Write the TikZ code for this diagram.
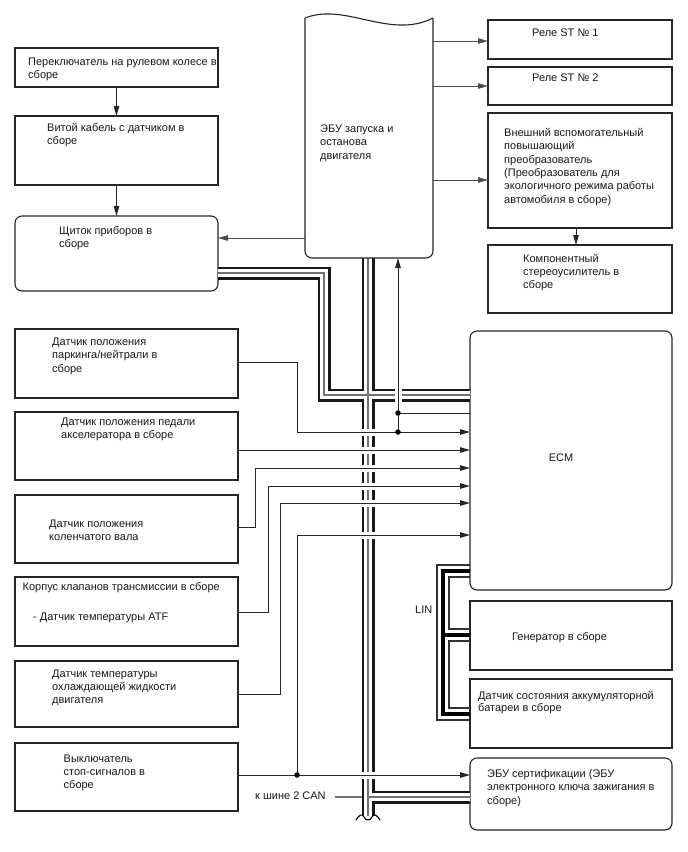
\documentclass[tikz,border=0pt]{standalone}
\usepackage{fontspec}
\setmainfont{Liberation Sans}
\usetikzlibrary{arrows.meta,calc}
\begin{document}
\begin{tikzpicture}[x=1pt,y=-1pt,
  box/.style={draw=black!85, line width=1.1pt, inner sep=0pt, outer sep=0pt, anchor=north west},
  rbox/.style={box, rounded corners=7pt},
  txt/.style={anchor=base west, align=left, inner sep=0pt, font=\fontsize{11}{13.3}\selectfont, text=black!90},
  arr/.style={line width=1pt, draw=black!85, -{Triangle[length=10pt,width=5.5pt]}},
  thinarr/.style={line width=0.9pt, draw=black!70, -{Triangle[length=10pt,width=5.5pt]}},
  sig/.style={line width=1pt, draw=black!85},
  canout/.style={line width=13pt, draw=black!90},
  canmid/.style={line width=7.5pt, draw=white},
  cancore/.style={line width=1.1pt, draw=black!55},
  gapw/.style={fill=white},
  linthin/.style={line width=1.2pt, draw=black!80},
  linthick/.style={line width=4pt, draw=black},
  dotn/.style={circle, fill=black, inner sep=0pt, minimum size=5.5pt},
  eculine/.style={draw=black!85, line width=1.1pt}
]
\fill[white] (0,0) rectangle (688,852);
\useasboundingbox (0,0) rectangle (688,852);

% ---------- level coordinates ----------
\coordinate (y41) at (0,41);
\coordinate (y86) at (0,86);
\coordinate (y180) at (0,180);
\coordinate (y238) at (0,238);
\coordinate (x576) at (576,0);
\coordinate (p1) at (297,362);
\coordinate (d1) at (398,413);
\coordinate (d2) at (398,432);
\coordinate (y450) at (0,450);
\coordinate (c1) at (255,527);
\coordinate (c2) at (255,468);
\coordinate (v1) at (268,612);
\coordinate (v2) at (268,486);
\coordinate (k1) at (280,694);
\coordinate (k2) at (280,503);
\coordinate (b1) at (297,775);
\coordinate (b2) at (297,535);
\coordinate (canA1) at (0,273);
\coordinate (canA2) at (324,273);
\coordinate (canA3) at (324,395);
\coordinate (canB1) at (368,258);
\coordinate (canB2) at (368,816);
\coordinate (canC1) at (368,797);
\coordinate (canlead) at (362,797);

% ---------- boxes ----------
\node[box, minimum width=203pt, minimum height=39pt] (sw) at (15,48) {};
\node[box, minimum width=203pt, minimum height=69pt] (tw) at (15,116) {};
\node[rbox, minimum width=203pt, minimum height=75pt] (ip) at (15,216) {};
\node[box, minimum width=184pt, minimum height=39pt] (r1) at (488,20) {};
\node[box, minimum width=184pt, minimum height=38pt] (r2) at (488,67) {};
\node[box, minimum width=184pt, minimum height=115pt] (ext) at (488,113) {};
\node[box, minimum width=184pt, minimum height=68pt] (comp) at (488,245) {};
\node[rbox, minimum width=202pt, minimum height=259pt] (ecm) at (470,331) {};
\node[box, minimum width=202pt, minimum height=69pt] (gen) at (470,601) {};
\node[box, minimum width=202pt, minimum height=69pt] (bat) at (470,679) {};
\node[rbox, minimum width=202pt, minimum height=72pt] (cert) at (470,758) {};
\node[box, minimum width=223pt, minimum height=69pt] (park) at (15,329) {};
\node[box, minimum width=223pt, minimum height=68pt] (pedal) at (15,412) {};
\node[box, minimum width=223pt, minimum height=68pt] (crank) at (15,495) {};
\node[box, minimum width=223pt, minimum height=69pt] (valve) at (15,577) {};
\node[box, minimum width=223pt, minimum height=66pt] (cool) at (15,661) {};
\node[box, minimum width=223pt, minimum height=68pt] (brake) at (15,743) {};
\node[inner sep=0pt, outer sep=0pt, minimum width=128pt, minimum height=240pt, anchor=south west] (ecu) at (305,258) {};

% ---------- CAN bus ----------
\foreach \st in {canout,canmid,cancore}{
  \draw[\st] (ip.east |- canA1) -- (canA2) -- (canA3) -- (ecm.west |- canA3);
  \draw[\st] (canB1) -- (canB2);
  \draw[\st] (canC1) -- (cert.west |- canC1);
}
% bus end wave
\fill[white] (356,816) rectangle (381,824);
\draw[line width=1.2pt] (356,820) .. controls (359,815) and (362,813) .. (364,817)
  .. controls (366,821) and (370,821) .. (372,817) .. controls (374,813) and (377,815) .. (380,820);
% gaps where signal lines cross
\foreach \yy in {432,450,468,486,503,535,775}{
  \fill[gapw] (359,\yy-3.5) rectangle (377,\yy+3.5);
}
\fill[gapw] (394.5,387) rectangle (401.5,403);

% ---------- LIN bus ----------
\draw[linthin] (ecm.west |- 0,565) -- (437,565) -- (437,720) -- (bat.west |- 0,720);
\draw[linthick] (ecm.west |- 0,571) -- (443,571) -- (443,714) -- (bat.west |- 0,714);
\draw[linthick] (443,635) -- (gen.west |- 0,635);
\draw[linthin] (ecm.west |- 0,577) -- (449,577) -- (449,629) -- (gen.west |- 0,629);
\draw[linthin] (gen.west |- 0,641) -- (449,641) -- (449,708) -- (bat.west |- 0,708);

% ---------- ECU outline ----------
\draw[eculine] (305,18) .. controls (345,2) and (390,40) .. (433,18);
\draw[eculine, rounded corners=7pt] (433,18) -- (433,258) -- (305,258) -- (305,18);

% ---------- texts (anchor = baseline of last line) ----------
\node[txt] (tsw) at (28,78.3) {Переключатель на рулевом колесе в\\сборе};
\node[txt] (ttw) at (47,144.8) {Витой кабель с датчиком в\\сборе};
\node[txt] (tip) at (59,247.3) {Щиток приборов в\\сборе};
\node[txt] (tecu) at (320,159.1) {ЭБУ запуска и\\останова\\двигателя};
\node[txt] (tr1) at (532,36.5) {Реле ST № 1};
\node[txt] (tr2) at (532,81.3) {Реле ST № 2};
\node[txt] (text) at (504,203) {Внешний вспомогательный\\повышающий\\преобразователь\\(Преобразователь для\\экологичного режима работы\\автомобиля в сборе)};
\node[txt] (tcomp) at (523,288.6) {Компонентный\\стереоусилитель в\\сборе};
\node[txt, anchor=center] (tecm) at (561,458) {ECM};
\node[txt] (tgen) at (512,640) {Генератор в сборе};
\node[txt, font=\fontsize{11}{12.5}\selectfont] (tbat) at (478,711.5) {Датчик состояния аккумуляторной\\батареи в сборе};
\node[txt, font=\fontsize{11}{13.7}\selectfont] (tcert) at (487,804.4) {ЭБУ сертификации (ЭБУ\\электронного ключа зажигания в\\сборе)};
\node[txt] (tpark) at (52,372.1) {Датчик положения\\паркинга/нейтрали в\\сборе};
\node[txt] (tped) at (61,438.8) {Датчик положения педали\\акселератора в сборе};
\node[txt] (tcrank) at (49,540.3) {Датчик положения\\коленчатого вала};
\node[txt] (tvalve) at (22.5,590.5) {Корпус клапанов трансмиссии в сборе};
\node[txt] (tatf) at (33,620.5) {- Датчик температуры ATF};
\node[txt] (tcool) at (52,703.6) {Датчик температуры\\охлаждающей жидкости\\двигателя};
\node[txt] (tbrake) at (63.5,788.6) {Выключатель\\стоп-сигналов в\\сборе};
\node[txt] (tcan) at (255,799) {к шине 2 CAN};
\node[txt] (tlin) at (415,613) {LIN};

\coordinate (canlbl) at (335,797);
\draw[line width=1.2pt, draw=black!55] (canlbl) -- (canlead);

% ---------- connectors ----------
\draw[arr] (sw.south) -- (tw.north);
\draw[arr] (tw.south) -- (ip.north);
\draw[thinarr] (ecu.west |- y238) -- (ip.east |- y238);
\draw[thinarr] (ecu.east |- y41) -- (r1.west |- y41);
\draw[thinarr] (ecu.east |- y86) -- (r2.west |- y86);
\draw[thinarr] (ecu.east |- y180) -- (ext.west |- y180);
\draw[arr] (ext.south -| x576) -- (comp.north -| x576);

\draw[arr] (park.east |- p1) -- (p1) -- (p1 |- d2) -- (ecm.west |- d2);
\draw[arr] (d2) -- (d2 |- ecu.south);
\draw[sig] (d1) -- (ecm.west |- d1);
\draw[arr] (pedal.east |- y450) -- (ecm.west |- y450);
\draw[arr] (crank.east |- c1) -- (c1) -- (c2) -- (ecm.west |- c2);
\draw[arr] (valve.east |- v1) -- (v1) -- (v2) -- (ecm.west |- v2);
\draw[arr] (cool.east |- k1) -- (k1) -- (k2) -- (ecm.west |- k2);
\draw[arr] (brake.east |- b1) -- (cert.west |- b1);
\draw[arr] (b1) -- (b2) -- (ecm.west |- b2);

\node[dotn] (dot1) at (d1) {};
\node[dotn] (dot2) at (d2) {};
\node[dotn] (dot3) at (b1) {};
\end{tikzpicture}
\end{document}
